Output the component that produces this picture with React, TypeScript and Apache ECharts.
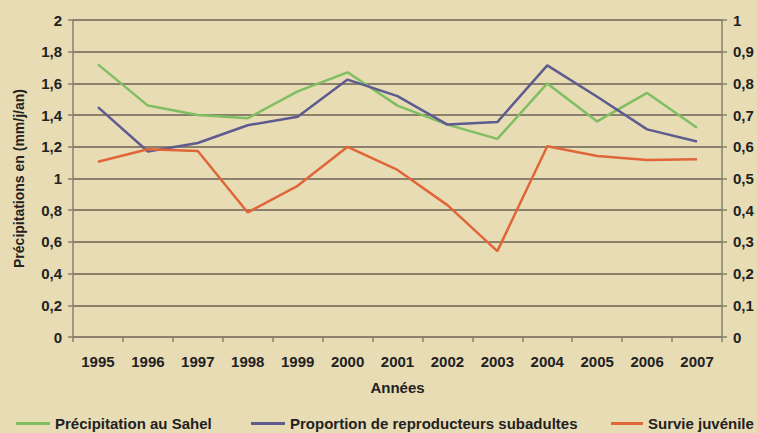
import React, { useEffect, useRef } from "react";
import * as echarts from "echarts";

const years = ["1995", "1996", "1997", "1998", "1999", "2000", "2001", "2002", "2003", "2004", "2005", "2006", "2007"];
const precipitation = [1.72, 1.46, 1.4, 1.38, 1.55, 1.67, 1.46, 1.34, 1.25, 1.6, 1.36, 1.54, 1.32];
const proportionSubadultes = [0.725, 0.585, 0.612, 0.668, 0.695, 0.812, 0.76, 0.67, 0.678, 0.857, 0.758, 0.655, 0.617];
const survieJuvenile = [0.553, 0.592, 0.587, 0.393, 0.477, 0.6, 0.527, 0.416, 0.271, 0.602, 0.571, 0.558, 0.561];

const seriesNames = ["Précipitation au Sahel", "Proportion de reproducteurs subadultes", "Survie juvénile"];
const colors = ["#80be62", "#5d5b8f", "#e0663a"];

const fmt = (v: number) => (Number.isInteger(v) ? String(v) : v.toFixed(1).replace(".", ","));

export default function App() {
  const ref = useRef<HTMLDivElement>(null);
  useEffect(() => {
    if (!ref.current) return;
    const chart = echarts.init(ref.current, undefined, { renderer: "svg" });
    const font = "'Liberation Sans', Arial, sans-serif";
    const textColor = "#222";
    const gridColor = "#8a806c";
    const fs = 15;
    const legendBase = {
      top: 416,
      icon: "rect",
      itemHeight: 3,
      padding: 0,
      textStyle: { fontFamily: font, fontSize: fs, fontWeight: "bold", color: textColor },
    };
    chart.setOption({
      animation: false,
      backgroundColor: "#e8dcb5",
      textStyle: { fontFamily: font },
      grid: { left: 73, right: 35, top: 20, bottom: 96, containLabel: false },
      legend: [
        { ...legendBase, left: 16, itemWidth: 34, data: [seriesNames[0]] },
        { ...legendBase, left: 251, itemWidth: 34, data: [seriesNames[1]] },
        { ...legendBase, left: 611, itemWidth: 32, data: [seriesNames[2]] },
      ],
      xAxis: {
        type: "category",
        data: years,
        boundaryGap: true,
        name: "Années",
        nameLocation: "middle",
        nameGap: 43,
        nameTextStyle: { fontFamily: font, fontSize: fs, fontWeight: "bold", color: textColor },
        axisLine: { lineStyle: { color: gridColor, width: 1.5 } },
        axisTick: { show: true, length: 5, lineStyle: { color: gridColor, width: 1.5 } },
        axisLabel: { fontFamily: font, fontSize: fs, fontWeight: "bold", color: textColor, margin: 17 },
        splitLine: { show: false },
      },
      yAxis: [
        {
          type: "value",
          min: 0,
          max: 2,
          interval: 0.2,
          name: "Précipitations en (mm/j/an)",
          nameLocation: "middle",
          nameGap: 47,
          nameTextStyle: { fontFamily: font, fontSize: 14, fontWeight: "bold", color: textColor },
          axisLine: { show: true, lineStyle: { color: gridColor, width: 1.5 } },
          axisTick: { show: true, length: 5, lineStyle: { color: gridColor, width: 1.5 } },
          axisLabel: { fontFamily: font, fontSize: fs, fontWeight: "bold", color: textColor, margin: 11, formatter: fmt },
          splitLine: { show: true, lineStyle: { color: gridColor, width: 2 } },
        },
        {
          type: "value",
          min: 0,
          max: 1,
          interval: 0.1,
          position: "right",
          axisLine: { show: true, lineStyle: { color: gridColor, width: 1.5 } },
          axisTick: { show: true, length: 5, lineStyle: { color: gridColor, width: 1.5 } },
          axisLabel: { fontFamily: font, fontSize: fs, fontWeight: "bold", color: textColor, margin: 11, formatter: fmt },
          splitLine: { show: false },
        },
      ],
      series: [
        {
          name: seriesNames[0],
          type: "line",
          yAxisIndex: 0,
          data: precipitation,
          showSymbol: false,
          symbol: "none",
          lineStyle: { color: colors[0], width: 2.5 },
          itemStyle: { color: colors[0] },
        },
        {
          name: seriesNames[1],
          type: "line",
          yAxisIndex: 1,
          data: proportionSubadultes,
          showSymbol: false,
          symbol: "none",
          lineStyle: { color: colors[1], width: 2.5 },
          itemStyle: { color: colors[1] },
        },
        {
          name: seriesNames[2],
          type: "line",
          yAxisIndex: 1,
          data: survieJuvenile,
          showSymbol: false,
          symbol: "none",
          lineStyle: { color: colors[2], width: 2.5 },
          itemStyle: { color: colors[2] },
        },
      ],
    });
    return () => chart.dispose();
  }, []);
  return <div ref={ref} style={{ position: "fixed", left: 0, top: 0, width: 757, height: 433 }} />;
}
